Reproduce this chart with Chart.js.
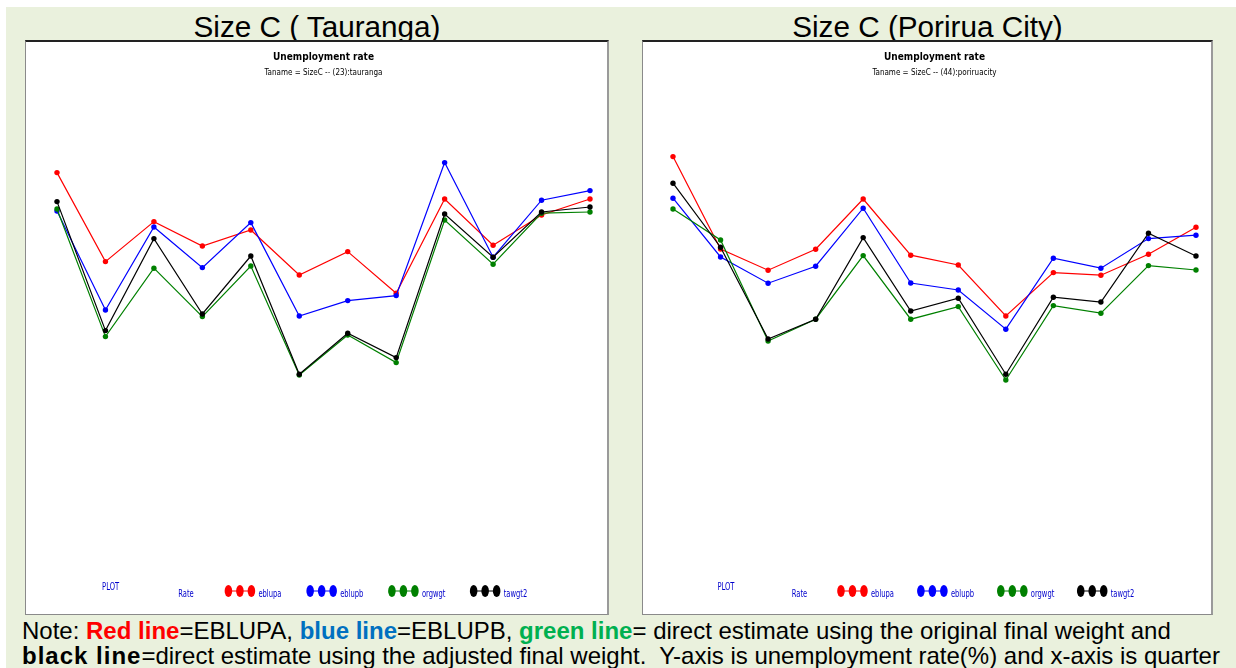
<!DOCTYPE html>
<html>
<head>
<meta charset="utf-8">
<script src="https://cdn.jsdelivr.net/npm/chart.js@4"></script>
<style>
  html, body { margin: 0; padding: 0; background: #fff; }
  body { width: 1236px; height: 668px; position: relative; overflow: hidden; font-family: 'Liberation Sans', Arial, sans-serif; }
  #page { position: absolute; left: 6px; top: 7px; right: 0; bottom: 0; background: #eaf1dd; }
  .ptitle { position: absolute; top: 10px; font-size: 29.7px; color: #000; white-space: nowrap; text-align: center; }
  .box { position: absolute; top: 40px; height: 575px; box-sizing: border-box; background: #fff;
         border: 1px solid #8a8a8a; border-top: 2px solid #222; border-right: 2px solid #9a9a9a; }
  .box canvas { display: block; }
  .note { position: absolute; left: 22px; font-size: 24px; line-height: 26px; color: #000; white-space: nowrap; }
  .note b { font-weight: bold; }
</style>
</head>
<body>
<div id="page"></div>
<div class="ptitle" style="left:25px;width:584px;">Size C ( Tauranga)</div>
<div class="ptitle" style="left:642px;width:571px;">Size C (Porirua City)</div>
<div class="box" style="left:25px;width:584px;"><canvas id="chartA" width="581" height="572"></canvas></div>
<div class="box" style="left:642px;width:571px;"><canvas id="chartB" width="568" height="572"></canvas></div>
<div class="note" style="top:618px;">Note: <b style="color:#ff0000">Red line</b>=EBLUPA, <b style="color:#0070c0">blue line</b>=EBLUPB, <b style="color:#00b050">green line</b>= direct estimate using the original final weight and</div>
<div class="note" style="top:643px;"><b style="letter-spacing:1px">black line</b>=direct estimate using the adjusted final weight.&nbsp; Y-axis is unemployment rate(%) and x-axis is quarter</div>

<script>
const quarters = ['1', '2', '3', '4', '5', '6', '7', '8', '9', '10', '11', '12'];

const seriesNames = ['eblupa', 'eblupb', 'orgwgt', 'tawgt2'];
const seriesColors = ['#ff0000', '#0000ff', '#008000', '#000000'];

// Tauranga (23)
const taurangaEblupa = [12.37, 7.92, 9.92, 8.70, 9.50, 7.25, 8.42, 6.34, 11.05, 8.74, 10.25, 11.05];
const taurangaEblupb = [10.45, 5.50, 9.65, 7.62, 9.87, 5.20, 5.97, 6.22, 12.87, 8.14, 10.99, 11.47];
const taurangaOrgwgt = [10.55, 4.17, 7.59, 5.17, 7.70, 2.25, 4.25, 2.87, 10.00, 7.79, 10.34, 10.40];
const taurangaTawgt2 = [10.92, 4.47, 9.07, 5.30, 8.20, 2.29, 4.34, 3.12, 10.30, 8.14, 10.40, 10.65];

// Porirua City (44)
const poriruaEblupa = [13.17, 8.55, 7.49, 8.54, 11.05, 8.24, 7.75, 5.20, 7.37, 7.24, 8.29, 9.64];
const poriruaEblupb = [11.09, 8.15, 6.84, 7.69, 10.59, 6.85, 6.50, 4.54, 8.09, 7.59, 9.07, 9.24];
const poriruaOrgwgt = [10.55, 9.00, 3.95, 5.04, 8.22, 5.04, 5.67, 2.00, 5.72, 5.34, 7.72, 7.50];
const poriruaTawgt2 = [11.84, 8.64, 4.05, 5.04, 9.12, 5.45, 6.09, 2.29, 6.14, 5.90, 9.34, 8.20];

const narrow = "'Liberation Sans Narrow', 'DejaVu Sans Condensed', Arial, sans-serif";

// squeezed text, the SAS output uses a very condensed font
function narrowText(ctx, text, x, y, sx) {
    ctx.save();
    ctx.translate(x, y);
    ctx.scale(sx, 1);
    ctx.fillText(text, 0, 0);
    ctx.restore();
}

// SAS-style legend at the bottom: "PLOT", "Rate" and dot-line-dot symbols
const sasLegend = {
    id: 'sasLegend',
    afterDraw(chart) {
        const ctx = chart.ctx;
        const w = chart.width;
        const y = 549;
        ctx.save();
        ctx.fillStyle = '#0000cc';
        ctx.font = '10px ' + narrow;
        ctx.textBaseline = 'middle';
        narrowText(ctx, 'PLOT', w * 0.131, y - 4, 0.75);
        narrowText(ctx, 'Rate', w * 0.262, y + 3, 0.75);
        seriesNames.forEach((name, i) => {
            const x0 = w * 0.3415 + i * w * 0.1407;
            ctx.strokeStyle = seriesColors[i];
            ctx.fillStyle = seriesColors[i];
            ctx.lineWidth = 1;
            ctx.beginPath();
            ctx.moveTo(x0 + 4, y);
            ctx.lineTo(x0 + 27, y);
            ctx.stroke();
            for (let k = 0; k < 3; k++) {
                ctx.beginPath();
                ctx.ellipse(x0 + 4 + k * 11.5, y, 3.8, 6, 0, 0, Math.PI * 2);
                ctx.fill();
            }
            ctx.fillStyle = '#0000cc';
            narrowText(ctx, name, x0 + 34, y + 3, 0.75);
        });
        ctx.restore();
    }
};

function makeChart(id, subtitle, values, padLeft, padRight) {
    const ctx = document.getElementById(id).getContext('2d');
    // drawn in reverse so the red line ends up on top
    const datasets = values.map((v, i) => ({
        label: seriesNames[i],
        data: v,
        borderColor: seriesColors[i],
        backgroundColor: seriesColors[i],
        borderWidth: 1.2,
        pointRadius: 2.7,
        pointBorderWidth: 0,
        tension: 0,
        fill: false
    })).reverse();

    return new Chart(ctx, {
        type: 'line',
        data: {
            labels: quarters,
            datasets: datasets
        },
        plugins: [sasLegend],
        options: {
            responsive: false,
            animation: false,
            layout: {
                padding: { left: padLeft, right: padRight, top: 0, bottom: 194 }
            },
            scales: {
                x: { display: false, offset: false },
                y: { display: false, min: 0, max: 15 }
            },
            plugins: {
                legend: { display: false },
                tooltip: { enabled: false },
                title: {
                    display: true,
                    text: 'Unemployment rate',
                    color: '#000',
                    font: { family: narrow, size: 10, weight: 'bold' },
                    padding: { top: 9, bottom: 5.2 }
                },
                subtitle: {
                    display: true,
                    text: subtitle,
                    color: '#000',
                    font: { family: narrow, size: 8 },
                    padding: { top: 0, bottom: 42.2 }
                }
            }
        }
    });
}

const chartA = makeChart('chartA', 'Taname = SizeC -- (23):tauranga',
    [taurangaEblupa, taurangaEblupb, taurangaOrgwgt, taurangaTawgt2], 31, 17);
const chartB = makeChart('chartB', 'Taname = SizeC -- (44):poriruacity',
    [poriruaEblupa, poriruaEblupb, poriruaOrgwgt, poriruaTawgt2], 30, 15);
</script>
</body>
</html>
